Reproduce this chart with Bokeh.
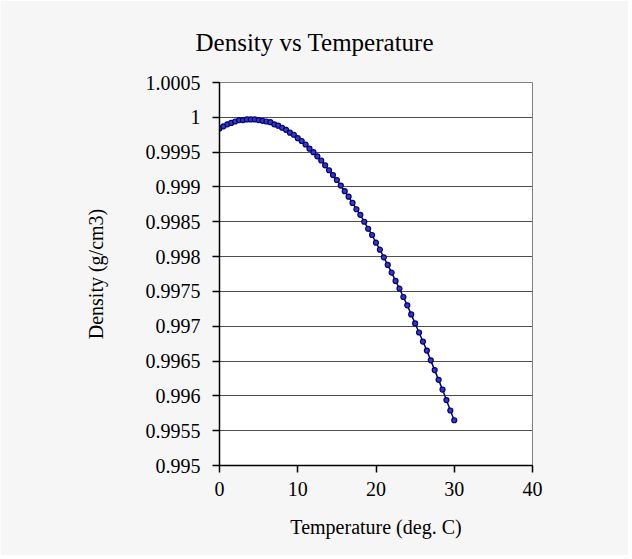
from bokeh.plotting import figure
from bokeh.models import FixedTicker, ColumnDataSource
from bokeh.embed import file_html
from bokeh.resources import INLINE

temperature = [0.0, 0.5, 1.0, 1.5, 2.0, 2.5, 3.0, 3.5, 4.0, 4.5, 5.0, 5.5, 6.0, 6.5, 7.0, 7.5,
               8.0, 8.5, 9.0, 9.5, 10.0, 10.5, 11.0, 11.5, 12.0, 12.5, 13.0, 13.5, 14.0, 14.5,
               15.0, 15.5, 16.0, 16.5, 17.0, 17.5, 18.0, 18.5, 19.0, 19.5, 20.0, 20.5, 21.0,
               21.5, 22.0, 22.5, 23.0, 23.5, 24.0, 24.5, 25.0, 25.5, 26.0, 26.5, 27.0, 27.5,
               28.0, 28.5, 29.0, 29.5, 30.0]
density = [0.99984, 0.99987, 0.99990, 0.99992, 0.99994, 0.99996, 0.99996, 0.99997, 0.99997,
           0.99997, 0.99996, 0.99995, 0.99994, 0.99993, 0.99990, 0.99988, 0.99985, 0.99982,
           0.99978, 0.99975, 0.99970, 0.99966, 0.99961, 0.99955, 0.99950, 0.99944, 0.99938,
           0.99931, 0.99924, 0.99917, 0.99910, 0.99902, 0.99894, 0.99886, 0.99877, 0.99868,
           0.99860, 0.99850, 0.99840, 0.99831, 0.99820, 0.99810, 0.99799, 0.99788, 0.99777,
           0.99765, 0.99754, 0.99742, 0.99730, 0.99717, 0.99704, 0.99691, 0.99678, 0.99665,
           0.99651, 0.99637, 0.99623, 0.99609, 0.99594, 0.99579, 0.99565]

x_ticks = [0, 10, 20, 30, 40]
y_ticks = [0.995, 0.9955, 0.996, 0.9965, 0.997, 0.9975, 0.998, 0.9985, 0.999, 0.9995, 1.0, 1.0005]
y_tick_labels = ["0.995", "0.9955", "0.996", "0.9965", "0.997", "0.9975", "0.998", "0.9985",
                 "0.999", "0.9995", "1", "1.0005"]

FONT = "Liberation Serif"

p = figure(width=628, height=555, output_backend="svg", toolbar_location=None,
           x_range=(0, 40), y_range=(0.995, 1.0005),
           min_border_left=219, min_border_top=81, min_border_right=96, min_border_bottom=90,
           title="Density vs Temperature")

p.border_fill_color = "#f6f6f6"
p.background_fill_color = "white"
p.outline_line_color = "#808080"
p.outline_line_width = 1

p.title.text_font = FONT
p.title.text_font_size = "25px"
p.title.text_font_style = "normal"
p.title.text_color = "black"
p.title.align = "left"
p.title.offset = -24
p.title.standoff = 53

p.xgrid.grid_line_color = None
p.ygrid.grid_line_color = "#4d4d4d"
p.ygrid.grid_line_width = 1

p.xaxis.ticker = FixedTicker(ticks=x_ticks)
p.yaxis.ticker = FixedTicker(ticks=y_ticks)
p.yaxis.major_label_overrides = {t: lab for t, lab in zip(y_ticks, y_tick_labels)}
p.xaxis.major_label_overrides = {t: str(t) for t in x_ticks}

for ax in (p.xaxis[0], p.yaxis[0]):
    ax.axis_line_color = "black"
    ax.axis_line_width = 1.5
    ax.major_tick_line_color = "black"
    ax.major_tick_line_width = 1.5
    ax.major_tick_out = 7
    ax.major_tick_in = 0
    ax.minor_tick_line_color = None
    ax.major_label_text_font = FONT
    ax.major_label_text_font_size = "20px"
    ax.major_label_text_color = "black"
    ax.axis_label_text_font = FONT
    ax.axis_label_text_font_size = "20px"
    ax.axis_label_text_font_style = "normal"
    ax.axis_label_text_color = "black"

p.xaxis.axis_label = "Temperature (deg. C)"
p.yaxis.axis_label = "Density (g/cm3)"
p.xaxis.major_label_standoff = 9
p.xaxis.axis_label_standoff = 17
p.yaxis.major_label_standoff = 12
p.yaxis.axis_label_standoff = 36

src = ColumnDataSource(data=dict(t=temperature, d=density))
p.line("t", "d", source=src, line_color="#000080", line_width=1.5)
p.scatter("t", "d", source=src, size=5, line_color="#000080", line_width=1.2,
          fill_color="#3a3ab0")

open("out.html", "w").write(file_html(p, INLINE))
